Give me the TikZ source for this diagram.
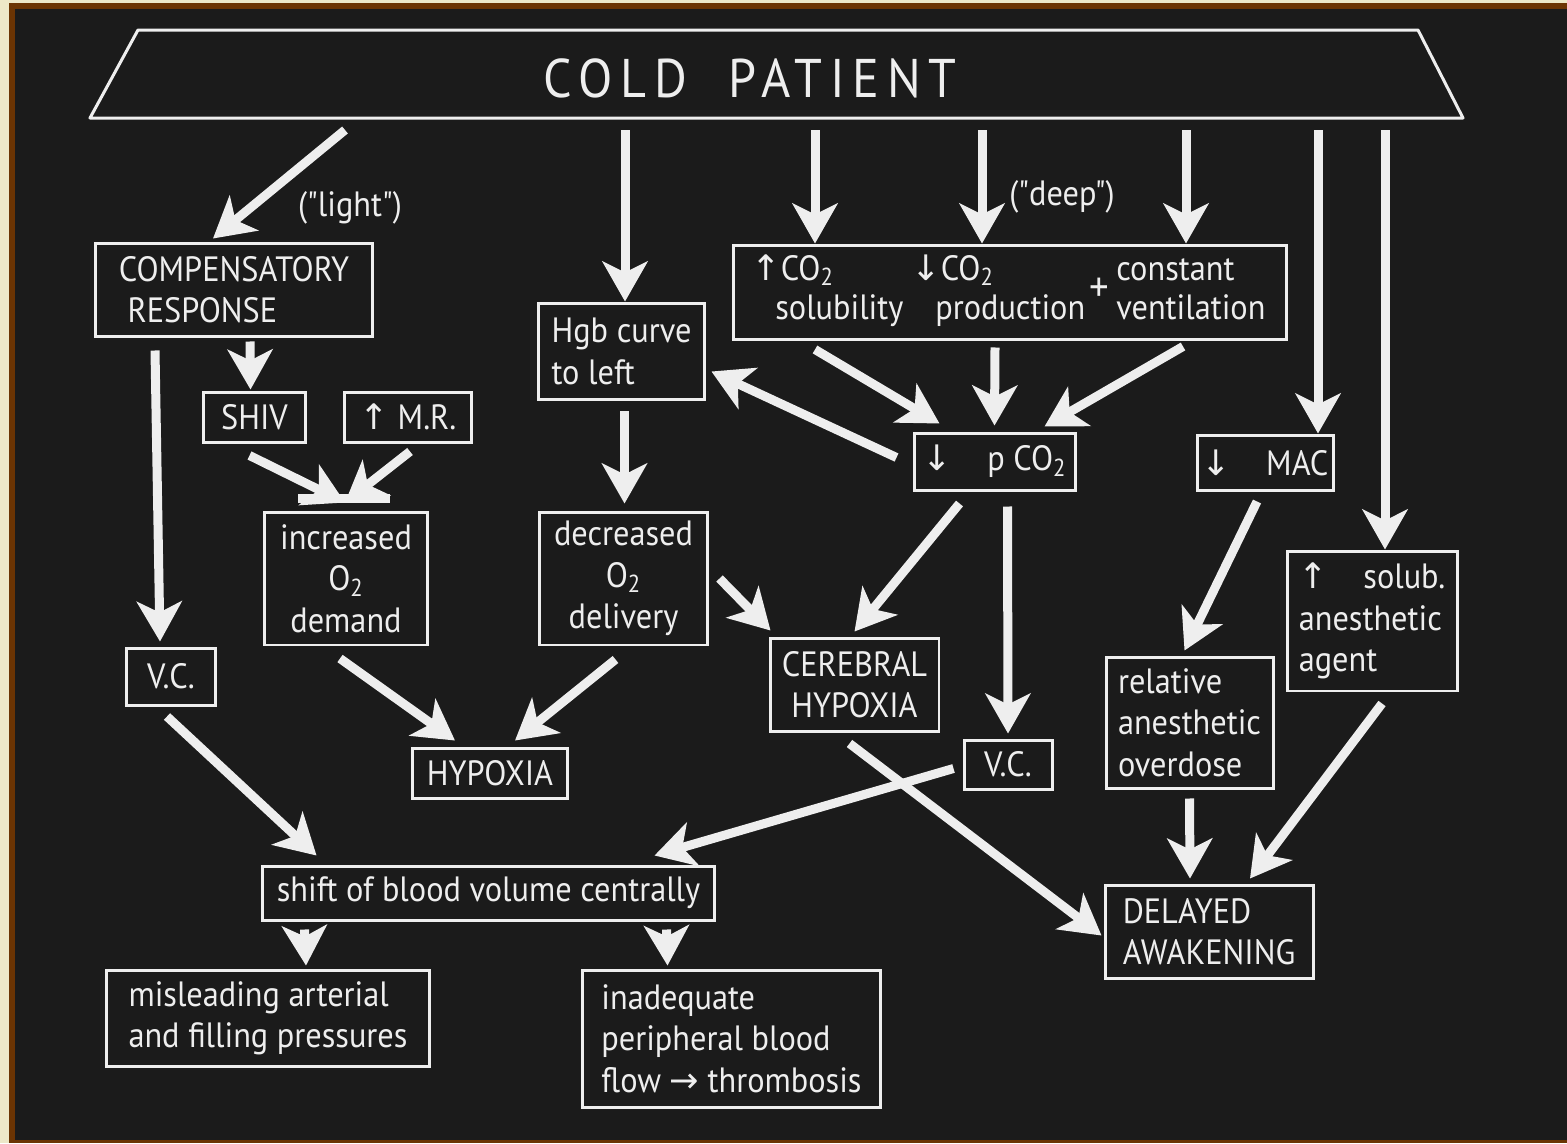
\documentclass[tikz,border=0pt]{standalone}
\usepackage{fontspec}
\setmainfont{PT Sans}[FakeStretch=0.92,Ligatures=TeXOff]
\newfontfamily\symfont{DejaVu Sans}
\usetikzlibrary{arrows.meta,calc}
\definecolor{slide}{HTML}{1B1B1B}
\definecolor{chalk}{HTML}{EEEEEE}
\definecolor{frame}{HTML}{6B3403}
\definecolor{paper}{HTML}{EDE8C8}
\newcommand{\upar}{{\symfont ↑}}
\newcommand{\dnar}{{\symfont ↓}}
\newcommand{\rtar}{{\symfont →}}
\tikzset{
  box/.style={draw=chalk,line width=0.06cm,text=chalk,inner sep=0pt,align=center},
  lbox/.style={box,align=left},
  word/.style={text=chalk,inner sep=0pt,anchor=base west},
  flow/.style={draw=chalk,line width=0.18cm,
    -{Stealth[length=0.8cm,width=0.9cm,inset=0.22cm]}},
  bar/.style={draw=chalk,line width=0.18cm}
}
\begin{document}
\begin{tikzpicture}[x=0.02cm,y=-0.02cm,font=\fontsize{20}{23.5}\selectfont]
  \useasboundingbox (0,0) rectangle (1567,1143);
  % slide and frame
  \fill[paper] (0,0) rectangle (1567,1143);
  \fill[frame] (9,3) rectangle (1567,1143);
  \fill[slide] (15,9) rectangle (1567,1140);

  % title
  \draw[chalk,line width=0.06cm,line join=round] (138,30) -- (1418,30) -- (1463,118) -- (90,118) -- cycle;
  \node[text=chalk,font=\fontsize{31}{34}\selectfont\addfontfeature{LetterSpace=14}] (cold) at (750,78) {COLD\ \ PATIENT};
  \foreach \n/\x in {c1/345,c2/625,c3/815,c4/982,c5/1186,c6/1318,c7/1385}
    \coordinate (\n) at (\x,130);

  % boxes
  \node[lbox,minimum width=5.56cm,minimum height=1.88cm] (comp) at (234,290) {COMPENSATORY\\\ RESPONSE};
  \node[lbox,minimum width=3.34cm,minimum height=1.94cm] (hgb) at (621.5,351.5) {Hgb curve\\to left};
  \node[box,minimum width=11.08cm,minimum height=1.9cm] (co2) at (1010,292.5) {};
  \node[word] (up1) at (751,280) {\upar CO\textsubscript{2}};
  \node[word] (sol) at (775,319) {solubility};
  \node[word] (dn1) at (911,280) {\dnar CO\textsubscript{2}};
  \node[word] (prod) at (935,319) {production};
  \node[text=chalk,inner sep=0pt,font=\fontsize{24}{24}\selectfont] (plus) at (1099,290) {+};
  \node[word] (const) at (1116,280) {constant};
  \node[word] (vent) at (1116,319) {ventilation};
  \node[box,minimum width=2.06cm,minimum height=1cm] (shiv) at (254.5,417) {SHIV};
  \node[box,minimum width=2.56cm,minimum height=1cm] (mr) at (408,417) {\upar\ M.R.};
  \node[box,minimum width=3.28cm,minimum height=2.66cm] (incr) at (346,578.5) {increased\\O\textsubscript{2}\\demand};
  \node[box,minimum width=3.38cm,minimum height=2.66cm] (decr) at (623.5,578.5) {decreased\\O\textsubscript{2}\\delivery};
  \node[box,minimum width=3.22cm,minimum height=1.14cm] (pco2) at (994.5,461.5) {\dnar\quad p CO\textsubscript{2}};
  \node[box,minimum width=2.72cm,minimum height=1.1cm] (mac) at (1265,462.5) {\dnar\quad MAC};
  \node[lbox,minimum width=3.4cm,minimum height=2.8cm] (solub) at (1372,621) {\upar\quad solub.\\anesthetic\\agent};
  \node[box,minimum width=1.8cm,minimum height=1.14cm] (vcl) at (171,676.5) {V.C.};
  \node[box,minimum width=3.38cm,minimum height=1.86cm] (cereb) at (854.5,684.5) {CEREBRAL\\HYPOXIA};
  \node[box,minimum width=3.12cm,minimum height=1cm] (hypox) at (490,773) {HYPOXIA};
  \node[box,minimum width=1.76cm,minimum height=0.98cm] (vcr) at (1008,764.5) {V.C.};
  \node[lbox,minimum width=3.34cm,minimum height=2.62cm] (rel) at (1189.5,722.5) {relative\\anesthetic\\overdose};
  \node[box,minimum width=9.06cm,minimum height=1.08cm] (shift) at (488.5,893) {shift of blood volume centrally};
  \node[lbox,minimum width=4.16cm,minimum height=1.86cm] (delay) at (1209,931.5) {DELAYED\\AWAKENING};
  \node[lbox,minimum width=6.48cm,minimum height=1.92cm] (mislead) at (268,1018) {misleading arterial\\and filling pressures};
  \node[lbox,minimum width=5.98cm,minimum height=2.74cm] (inadeq) at (731.5,1038.5) {inadequate\\peripheral blood\\flow \rtar\ thrombosis};

  % labels
  \node[text=chalk] (light) at (350,208) {("light")};
  \node[text=chalk] (deep) at (1062,197) {("deep")};

  % arrows from the title
  \draw[flow] (c1) -- ($(comp.north)+(-21,-3)$);
  \draw[flow] (c2) -- (c2 |- hgb.north);
  \draw[flow] (c3) -- (c3 |- co2.north);
  \draw[flow] (c4) -- (c4 |- co2.north);
  \draw[flow] (c5) -- (c5 |- co2.north);
  \draw[flow] (c6) -- (c6 |- mac.north);
  \draw[flow] (c7) -- (c7 |- solub.north);

  % left branch
  \draw[flow] ($(comp.south)+(-79,12)$) -- ($(vcl.north)+(-11,-5)$);
  \draw[flow] ($(comp.south)+(16,3)$) -- ($(shiv.north)+(-4,-1)$);
  \draw[flow] ($(shiv.south)+(-5,12)$) -- ($(incr.north)+(-1,-8)$);
  \draw[flow] ($(mr.south)+(2,8)$) -- ($(incr.north)+(-1,-8)$);
  \draw[bar] ($(incr.north)+(-48,-12)$) -- ($(incr.north)+(44,-12)$);
  \draw[flow] ($(incr.south)+(-6,12)$) -- ($(hypox.north)+(-35,-6)$);
  \draw[flow] ($(vcl.south)+(-4,10)$) -- ($(shift.north west)+(56,-9)$);

  % middle branch
  \draw[flow] ($(hgb.south)+(3,10)$) -- ($(decr.north)+(1,-7)$);
  \draw[flow] ($(decr.south)+(-8,13)$) -- ($(hypox.north)+(25,-6)$);
  \draw[flow] ($(decr.east)+(10,0)$) -- ($(cereb.north west)+(2,-6)$);
  \draw[flow] ($(co2.south)+(-195,8)$) -- ($(pco2.north)+(-55,-8)$);
  \draw[flow] ($(co2.south)+(-15,6)$) -- ($(pco2.north)+(0,-6)$);
  \draw[flow] ($(co2.south)+(173,5)$) -- ($(pco2.north)+(50,-5)$);
  \draw[flow] ($(pco2.west)+(-16,-4)$) -- ($(hgb.east)+(5,20)$);
  \draw[flow] ($(pco2.south)+(-35,12)$) -- ($(cereb.north)+(0,-5)$);
  \draw[flow] ($(pco2.south)+(13,15)$) -- ($(vcr.north)+(0,-5)$);
  \draw[flow] ($(vcr.west)+(-9,4)$) -- ($(shift.north)+(166,-9)$);
  \draw[flow] ($(cereb.south)+(-5,11)$) -- ($(delay.west)+(-2,4)$);

  % right branch
  \draw[flow] ($(mac.south)+(-8,10)$) -- ($(rel.north)+(-5,-5)$);
  \draw[flow] ($(rel.south)+(0,9)$) -- ($(delay.north)+(-19,-5)$);
  \draw[flow] ($(solub.south)+(10,11)$) -- ($(delay.north)+(41,-5)$);

  % bottom
  \draw[flow] ($(shift.south west)+(44,8)$) -- ($(mislead.north)+(38,-3)$);
  \draw[flow] ($(shift.south west)+(406,8)$) -- ($(inadeq.north)+(-64,-3)$);
\end{tikzpicture}
\end{document}
